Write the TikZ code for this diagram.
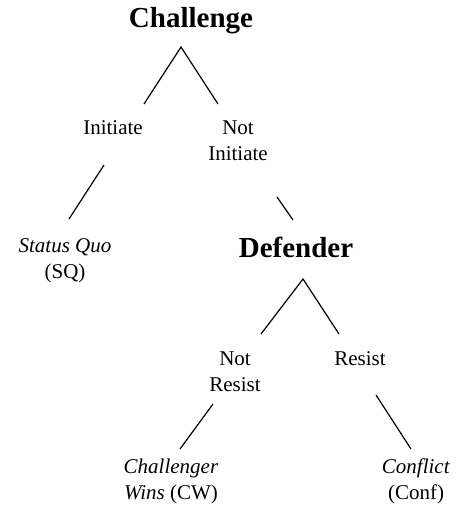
\documentclass[tikz,border=0pt]{standalone}
\usepackage{fontspec}
\setmainfont{Liberation Serif}

\begin{document}
\begin{tikzpicture}[x=1pt,y=-1pt,
    player/.style={font=\fontsize{29}{34}\selectfont\bfseries, anchor=base, inner sep=0pt},
    move/.style={font=\fontsize{21}{26}\selectfont, anchor=base, align=center, inner sep=0pt},
    branch/.style={line width=1.2pt}]
    \useasboundingbox (0,0) rectangle (455,516);

    % players
    \node[player] (chal) at (191,28) {Challenge};
    \node[player] (def) at (296,257) {Defender};

    % moves (two lines: placed at the last baseline)
    \node[move] (init) at (113,135) {Initiate};
    \node[move] (notinit) at (238,160) {Not\\Initiate};
    \node[move] (notres) at (235,391) {Not\\Resist};
    \node[move] (res) at (360,365) {Resist};

    % outcomes
    \node[move] (sq) at (65,278) {\textit{Status Quo}\\(SQ)};
    \node[move] (cw) at (171,499) {\textit{Challenger}\\\textit{Wins} (CW)};
    \node[move] (conf) at (416,499) {\textit{Conflict}\\(Conf)};

    % branch ends
    \coordinate (chaltip) at (181,47);
    \coordinate (inittop) at (144,104);
    \coordinate (notinittop) at (218,104);
    \coordinate (initbot) at (104,165);
    \coordinate (sqtop) at (69,219);
    \coordinate (notinitbot) at (277,197);
    \coordinate (deftop) at (293,220);
    \coordinate (deftip) at (303,279);
    \coordinate (notrestop) at (261,334);
    \coordinate (restop) at (339,334);
    \coordinate (notresbot) at (213,404);
    \coordinate (cwtop) at (180,449);
    \coordinate (resbot) at (376,395);
    \coordinate (conftop) at (411,449);

    % branches
    \draw[branch] (inittop) -- (chaltip) -- (notinittop);
    \draw[branch] (initbot) -- (sqtop);
    \draw[branch] (notinitbot) -- (deftop);
    \draw[branch] (notrestop) -- (deftip) -- (restop);
    \draw[branch] (notresbot) -- (cwtop);
    \draw[branch] (resbot) -- (conftop);
\end{tikzpicture}
\end{document}
